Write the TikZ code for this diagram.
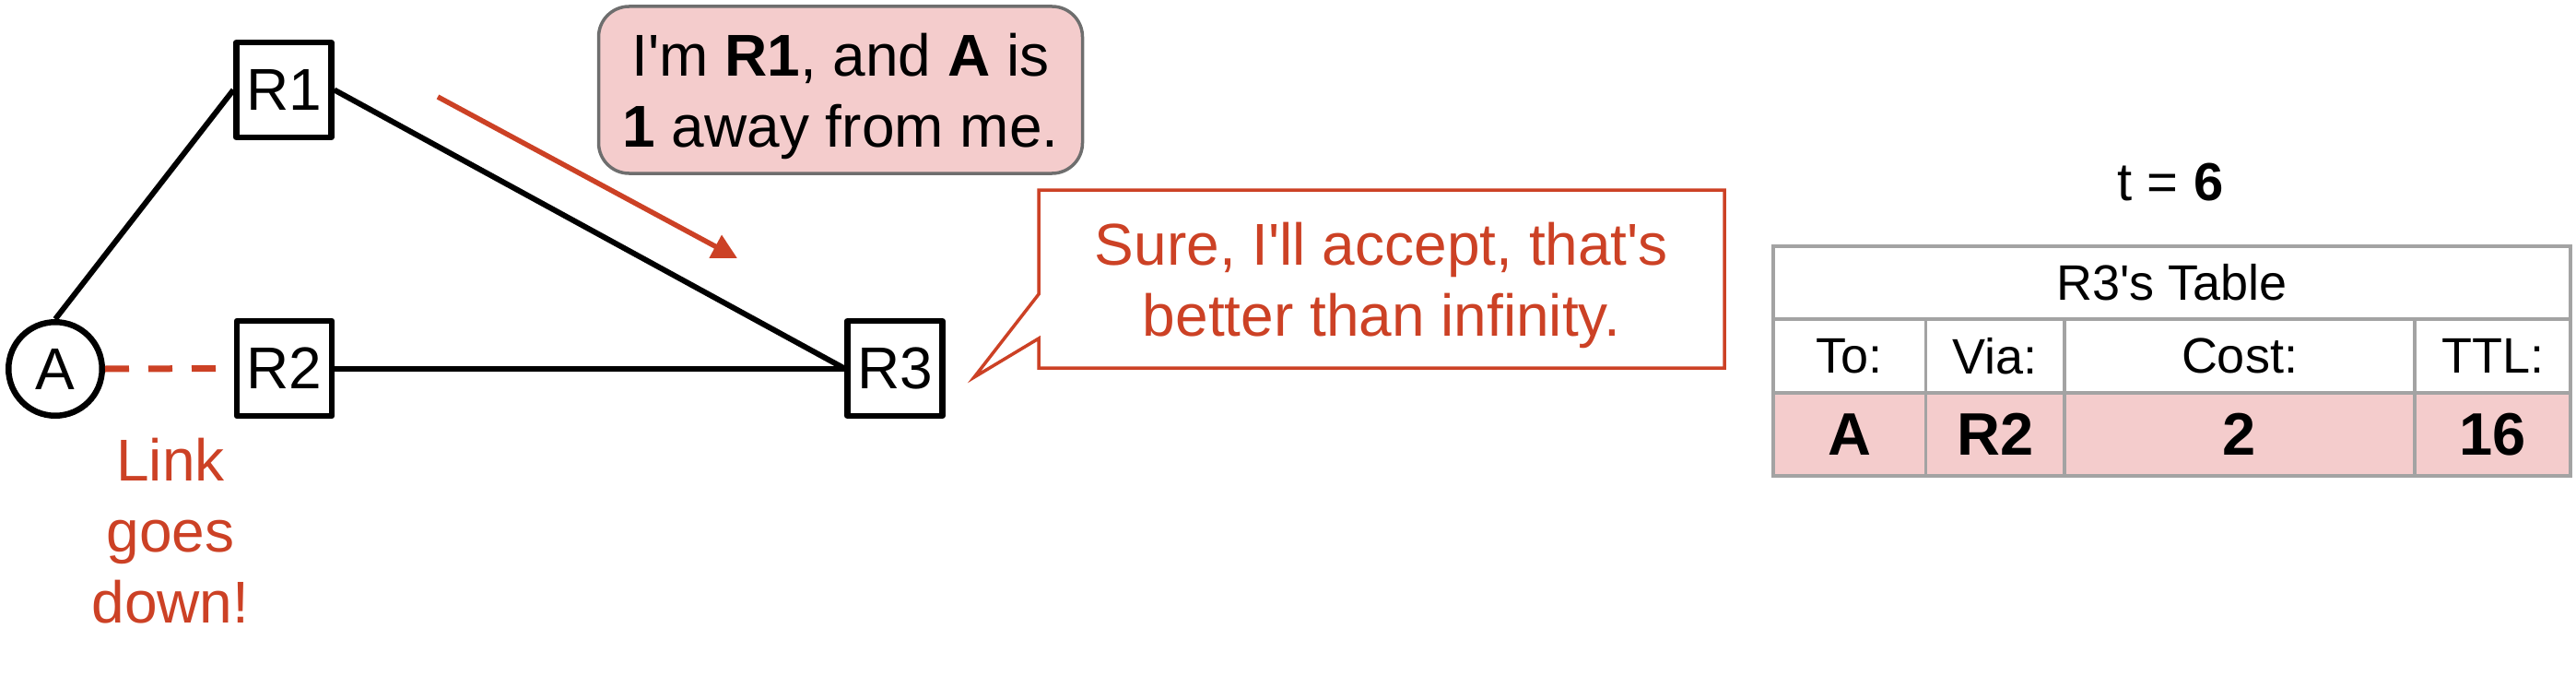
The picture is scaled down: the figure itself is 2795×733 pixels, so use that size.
\documentclass[tikz,border=0pt]{standalone}
\usepackage{fontspec}
\newfontfamily\lsans{Liberation Sans}
\usetikzlibrary{arrows.meta}
\definecolor{redb}{HTML}{CC4125}
\definecolor{pinkf}{HTML}{F4CCCC}
\definecolor{bubgray}{HTML}{6E6E6E}
\definecolor{tabgray}{HTML}{A3A3A3}
\newcommand{\bigfont}{\lsans\fontsize{64}{77}\selectfont}
\newcommand{\tabfont}{\lsans\fontsize{54}{65}\selectfont}
\newcommand{\rowfont}{\lsans\fontsize{65}{78}\selectfont\bfseries}
\newcommand{\tfont}{\lsans\fontsize{58}{70}\selectfont}
\begin{document}
\begin{tikzpicture}[x=1pt,y=-1pt,
  router/.style={draw, line width=6.5pt, line join=round, minimum width=103pt, minimum height=103pt, inner sep=0pt, font=\bigfont},
  host/.style={draw, circle, line width=6.5pt, minimum size=101.5pt, inner sep=0pt, font=\bigfont},
  link/.style={line width=6pt},
  downlink/.style={draw=redb, line width=7pt, dash pattern=on 26pt off 21pt},
  msgarrow/.style={draw=redb, line width=5.5pt, -{Triangle[length=27pt,width=27pt]}},
  bubble/.style={draw=bubgray, fill=pinkf, line width=3.5pt, rounded corners=33pt, minimum width=525pt, minimum height=181pt, inner sep=0pt, align=center, font=\bigfont, text depth=0pt},
  callbox/.style={minimum width=744pt, minimum height=193pt, inner sep=0pt, outer sep=0pt, align=center, font=\bigfont, text=redb, text depth=0pt},
  callline/.style={draw=redb, line width=3.5pt, fill=white, line join=miter},
  redlabel/.style={align=center, font=\bigfont, text=redb, text depth=0pt, inner sep=0pt},
  cell/.style={draw=tabgray, line width=3.5pt, inner sep=0pt, font=\tabfont},
  hcell/.style={cell, minimum height=80pt},
  vcell/.style={cell, minimum height=90pt, fill=pinkf, font=\rowfont}
]
\useasboundingbox (0,0) rectangle (2795,733);

% network
\node[host] (A) at (60,400) {A};
\node[router] (R1) at (308,97.5) {R1};
\node[router] (R2) at (308.5,399.5) {R2};
\node[router] (R3) at (971,399.5) {R3};
\draw[link] (A.north) -- (R1.west);
\draw[link] (R1.east) -- (R3.west);
\draw[link] (R2.east) -- (R3.west);
\draw[downlink] (A.east) -- (R2.west);
\node[redlabel] (down) at (185,575.5) {Link\\goes\\down!};

% message arrow
\coordinate (ms) at (475,105);
\coordinate (me) at (800,280);
\draw[msgarrow] (ms) -- (me);

% speech bubble from R1
\node[bubble] (b1) at (912,97.5) {I'm \textbf{R1}, and \textbf{A} is\\\textbf{1} away from me.};

% callout from R3
\node[callbox] (b2) at (1499,302.5) {};
\coordinate (tip) at (1057,409);
\draw[callline] (b2.north west) -- (b2.north east) -- (b2.south east) -- (b2.south west)
  -- ([yshift=32pt]b2.south west) -- (tip) -- ([yshift=80pt]b2.south west) -- cycle;
\node[callbox] (b2text) at (1499,302.5) {Sure, I'll accept, that's\\better than infinity.};

% time
\node[font=\tfont, anchor=base, inner sep=0pt] (time) at (2355,217) {t = \textbf{6}};

% table
\node[cell, minimum width=865pt, minimum height=79pt] (thead) at (2356.5,306.5) {R3's Table};
\node[hcell, minimum width=165.5pt] (tto)   at (2006.75,386) {To:};
\node[hcell, minimum width=150.5pt] (tvia)  at (2164.75,386) {Via:};
\node[hcell, minimum width=380pt]   (tcost) at (2430,386) {Cost:};
\node[hcell, minimum width=169pt]   (tttl)  at (2704.5,386) {TTL:};
\node[vcell, minimum width=165.5pt] (vto)   at (2006.75,471) {A};
\node[vcell, minimum width=150.5pt] (vvia)  at (2164.75,471) {R2};
\node[vcell, minimum width=380pt]   (vcost) at (2430,471) {2};
\node[vcell, minimum width=169pt]   (vttl)  at (2704.5,471) {16};
\end{tikzpicture}
\end{document}
